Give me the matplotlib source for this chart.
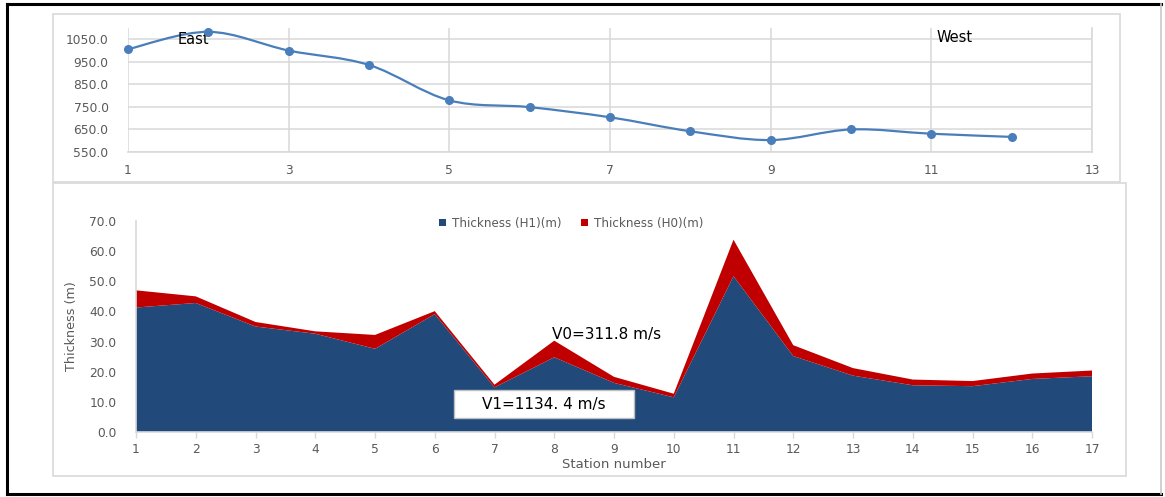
import matplotlib
matplotlib.use("Agg")
import matplotlib.pyplot as plt
from matplotlib.patches import Rectangle, Patch, PathPatch
from matplotlib.path import Path
from matplotlib.lines import Line2D
from matplotlib.ticker import FormatStrFormatter

# ---- elevation profile (top panel) ----
elev_station = [1, 2, 3, 4, 5, 6, 7, 8, 9, 10, 11, 12]
elevation = [1006, 1083, 1000, 936, 779, 749, 704, 642, 603, 650, 631, 617]
elev_xticks = [1, 3, 5, 7, 9, 11, 13]
elev_yticks = [550, 650, 750, 850, 950, 1050]

# ---- layer thickness (bottom panel) ----
stations = list(range(1, 18))
thick_h1 = [41.3, 42.8, 35.0, 32.6, 27.6, 39.1, 14.8, 24.8, 16.3, 11.5,
            51.7, 25.2, 18.7, 15.5, 15.2, 17.6, 18.5]
thick_h0 = [5.7, 2.2, 1.5, 0.8, 4.6, 1.0, 0.9, 5.5, 2.0, 1.2,
            12.1, 3.6, 2.5, 1.9, 1.7, 1.8, 1.9]
thick_yticks = [0, 10, 20, 30, 40, 50, 60, 70]

W, H = 1165, 497
fig = plt.figure(figsize=(W / 100, H / 100), dpi=100)
fig.patch.set_facecolor("white")


def frac_rect(x0, y0, x1, y1):
    """Pixel box (top-left origin) -> figure fraction [l, b, w, h]."""
    return [x0 / W, (H - y1) / H, (x1 - x0) / W, (y1 - y0) / H]


def fx(px):
    return px / W


def fy(py):
    return (H - py) / H


TICK_COLOR = "#595959"
GRID = "#D9D9D9"

# outer frame: dark on left, top and bottom, light on the right
for (x0, y0, x1, y1, c, lw) in [(7, 4, 7, 494, "black", 2.2),
                                (7, 4, 1161, 4, "black", 2.2),
                                (7, 494, 1161, 494, "black", 2.2),
                                (1161, 4, 1161, 494, "#C8C8C8", 1.2)]:
    fig.add_artist(Line2D([fx(x0), fx(x1)], [fy(y0), fy(y1)],
                          transform=fig.transFigure, color=c, lw=lw))
for box in [(53, 14, 1120, 182), (53, 183, 1126, 476)]:
    l, b, w, h = frac_rect(*box)
    fig.add_artist(Rectangle((l, b), w, h, transform=fig.transFigure,
                             fill=False, edgecolor=GRID, lw=1.2))

# ---------------- top panel ----------------
ax1 = fig.add_axes(frac_rect(128, 28, 1092, 152))
ax1.set_xlim(1, 13)
ax1.set_ylim(550, 1100)
ax1.set_xticks(elev_xticks)
ax1.set_yticks(elev_yticks)
ax1.yaxis.set_major_formatter(FormatStrFormatter("%.1f"))
ax1.grid(True, color=GRID, lw=1.1)
ax1.set_axisbelow(True)
for side, sp in ax1.spines.items():
    sp.set_visible(side in ("bottom", "right"))
    sp.set_color(GRID)
    sp.set_linewidth(1.2)
ax1.tick_params(length=0, labelsize=8.8, colors=TICK_COLOR)
ax1.tick_params(axis="y", pad=14)
ax1.tick_params(axis="x", pad=9)

# smoothed line through the stations (cubic Bezier segments)
n = len(elev_station)
verts = [(elev_station[0], elevation[0])]
codes = [Path.MOVETO]
for i in range(n - 1):
    xp, yp = (elev_station[i - 1], elevation[i - 1]) if i > 0 else (elev_station[i], elevation[i])
    x0, y0 = elev_station[i], elevation[i]
    x1, y1 = elev_station[i + 1], elevation[i + 1]
    xn, yn = (elev_station[i + 2], elevation[i + 2]) if i + 2 < n else (x1, y1)
    c1 = (x0 + (x1 - xp) / 6, y0 + (y1 - yp) / 6)
    c2 = (x1 - (xn - x0) / 6, y1 - (yn - y0) / 6)
    verts += [c1, c2, (x1, y1)]
    codes += [Path.CURVE4] * 3
ax1.add_patch(PathPatch(Path(verts, codes), fill=False,
                        edgecolor="#4A7EBB", lw=1.6, zorder=3))
ax1.plot(elev_station, elevation, linestyle="none", marker="o",
         ms=5.5, color="#4A7EBB", zorder=4, clip_on=False)

ax1.text(1.62, 1050, "East", fontsize=10.5, color="black", va="center")
ax1.text(11.07, 1058, "West", fontsize=10.5, color="black", va="center")

# ---------------- bottom panel ----------------
ax2 = fig.add_axes(frac_rect(136, 221, 1092, 432))
ax2.set_xlim(1, 17)
ax2.set_ylim(0, 70)
ax2.stackplot(stations, thick_h1, thick_h0,
              colors=["#214A7B", "#C00000"], lw=0)
ax2.set_xticks(stations)
ax2.set_yticks(thick_yticks)
ax2.yaxis.set_major_formatter(FormatStrFormatter("%.1f"))
for side, sp in ax2.spines.items():
    sp.set_visible(side in ("bottom", "left"))
    sp.set_color(GRID)
    sp.set_linewidth(1.2)
ax2.tick_params(axis="y", length=0, pad=14, labelsize=8.8, colors=TICK_COLOR)
ax2.tick_params(axis="x", length=4, width=1, color=GRID, pad=4,
                labelsize=8.8, labelcolor=TICK_COLOR)
ax2.set_xlabel("Station number", fontsize=9.5, color=TICK_COLOR, labelpad=1)
ax2.set_ylabel("Thickness (m)", fontsize=9.2, color=TICK_COLOR, labelpad=8)

handles = [Patch(facecolor="#214A7B", label="Thickness (H1)(m)"),
           Patch(facecolor="#C00000", label="Thickness (H0)(m)")]
leg = ax2.legend(handles=handles, loc="center", bbox_to_anchor=(0.455, 0.99),
                 ncol=2, frameon=False, fontsize=8.6, handlelength=0.6,
                 handleheight=0.6, handletextpad=0.5, columnspacing=1.6)
for t in leg.get_texts():
    t.set_color(TICK_COLOR)

ax2.text(7.97, 32.5, "V0=311.8 m/s", fontsize=11, color="black",
         va="center", ha="left", zorder=5)
ax2.add_patch(Rectangle((6.32, 4.6), 3.02, 9.3, facecolor="white",
                        edgecolor="#BFBFBF", lw=1, zorder=5))
ax2.text(7.83, 9.25, "V1=1134. 4 m/s", fontsize=11, color="black",
         va="center", ha="center", zorder=6)

fig.savefig("out.png", dpi=100, facecolor="white")
